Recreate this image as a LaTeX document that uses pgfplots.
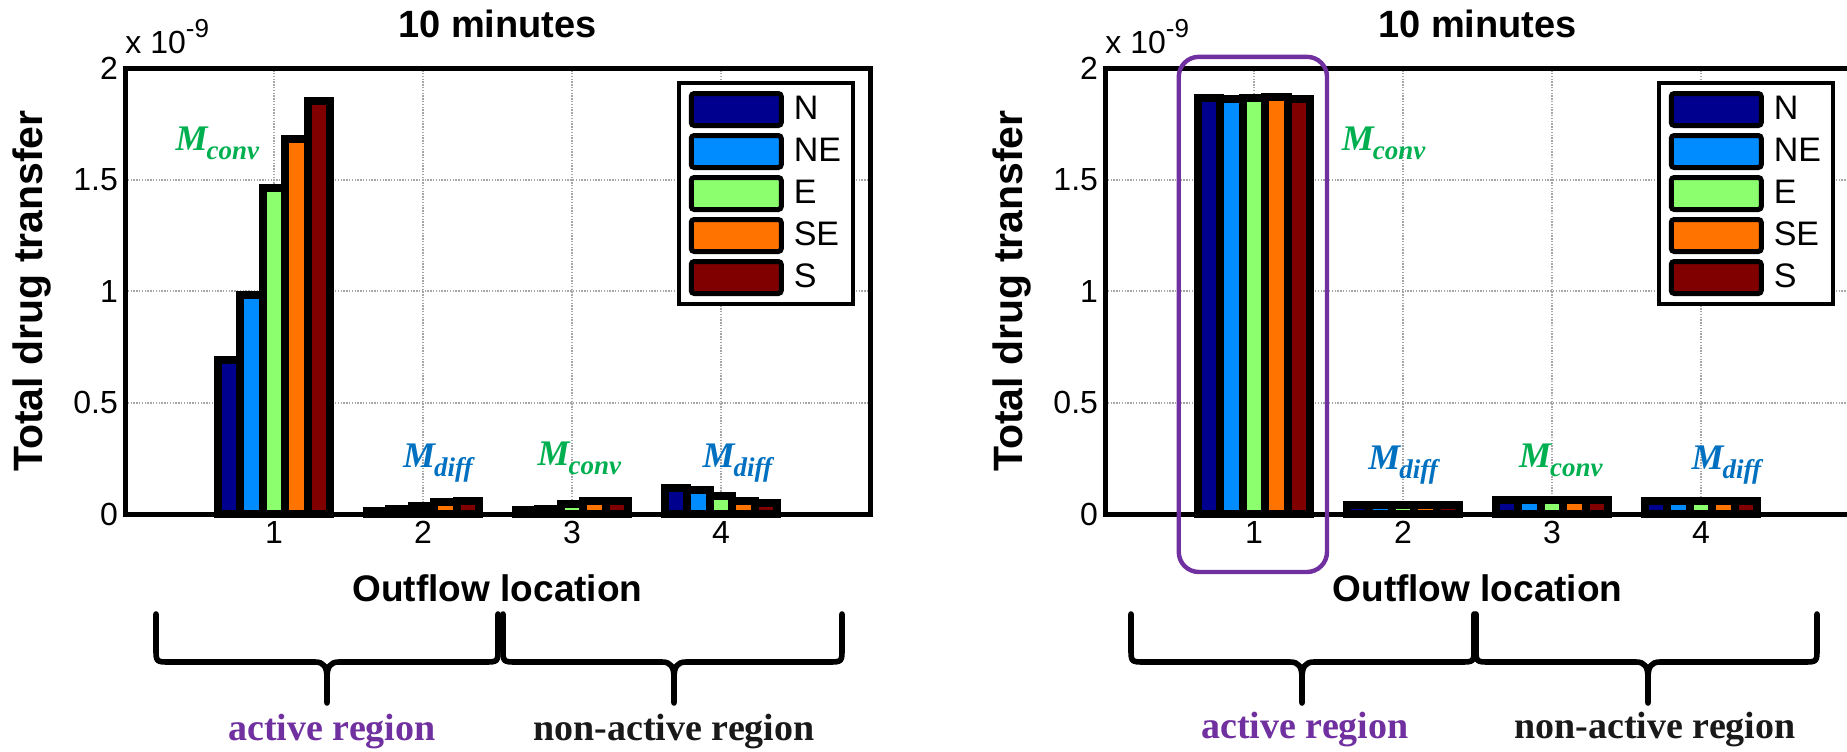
\documentclass[border=0pt]{standalone}
\usepackage{pgfplots}
\pgfplotsset{compat=1.18}
\usepackage{fontspec}
\setmainfont{Liberation Sans}
\newfontfamily\serifrm{Liberation Serif}

\definecolor{cN}{RGB}{0,0,143}
\definecolor{cNE}{RGB}{0,140,255}
\definecolor{cE}{RGB}{140,255,110}
\definecolor{cSE}{RGB}{255,115,0}
\definecolor{cS}{RGB}{128,0,0}
\definecolor{mgreen}{RGB}{0,176,80}
\definecolor{mblue}{RGB}{0,112,192}
\definecolor{mpurple}{RGB}{112,48,160}

\newcommand{\Mlab}[2]{{\color{#1}\serifrm\bfseries\itshape\fontsize{18}{18}\selectfont M\kern-0.5pt\raisebox{-4.5pt}{\fontsize{13.5}{13.5}\selectfont #2}}}

\newcommand{\hbrace}[3]{%
 \draw[line width=2.8pt, line cap=round, line join=round] (#1,614) -- (#1,648) .. controls (#1,662) .. (#1+14,662) -- (#3-12,662) .. controls (#3-3,662) and (#3,667) .. (#3,678) -- (#3,703);
 \draw[line width=2.8pt, line cap=round, line join=round] (#2,614) -- (#2,648) .. controls (#2,662) .. (#2-14,662) -- (#3+12,662) .. controls (#3+3,662) and (#3,667) .. (#3,678);}

\pgfplotsset{
 panel/.style={
  scale only axis, width=372.5pt, height=223pt,
  xmin=0, xmax=5, ymin=0, ymax=2,
  ybar=0pt, bar width=0.15,
  xtick={1,2,3,4}, xticklabels={1,2,3,4},
  ytick={0,0.5,1,1.5,2}, yticklabels={0,0.5,1,1.5,2},
  major tick length=0pt,
  grid=major, major grid style={gray!70, line width=1pt, dash pattern=on 0.7pt off 0.7pt},
  axis line style={line width=2.5pt},
  ticklabel style={font=\fontsize{16}{16}\selectfont},
  title={10 minutes},
  title style={font=\bfseries\fontsize{19}{19}\selectfont, at={(0.5,1)}, anchor=center, yshift=16pt},
  xlabel={Outflow location},
  xlabel style={font=\bfseries\fontsize{18.5}{18.5}\selectfont, at={(axis description cs:0.5,0)}, anchor=center, yshift=-37pt},
  ylabel={Total drug transfer},
  ylabel style={font=\bfseries\fontsize{20.5}{20.5}\selectfont, at={(axis description cs:-0.1248,0.5)}, anchor=center},
  legend image code/.code={\draw[##1, draw=black, line width=2.5pt, rounded corners=1.5pt] (0pt,-8pt) rectangle (45pt,8pt);},
  legend style={at={(1,1)}, anchor=north east, xshift=-7.5pt, yshift=-6.5pt, draw=black, line width=2pt, font=\fontsize{17}{17}\selectfont, row sep=2.5pt, inner xsep=5pt, inner ysep=4pt, nodes={inner sep=1pt}, /tikz/every odd column/.append style={column sep=4pt}},
  legend cell align=left,
  clip=false,
  every axis plot/.append style={draw=black, line width=4pt},
 },
}

\begin{document}
\begin{tikzpicture}
\useasboundingbox (0,0) rectangle (923.5pt,375.5pt);

\begin{axis}[panel, at={(62.5pt,118.5pt)}, anchor=south west]
\addplot[fill=cN]  coordinates {(1,0.69) (2,0.012) (3,0.017) (4,0.117)};
\addplot[fill=cNE] coordinates {(1,0.98) (2,0.021) (3,0.024) (4,0.106)};
\addplot[fill=cE]  coordinates {(1,1.46) (2,0.036) (3,0.046) (4,0.079)};
\addplot[fill=cSE] coordinates {(1,1.68) (2,0.054) (3,0.058) (4,0.058)};
\addplot[fill=cS]  coordinates {(1,1.85) (2,0.058) (3,0.060) (4,0.049)};
\legend{N,NE,E,SE,S}
\node at (axis cs:0.62,1.66) {\Mlab{mgreen}{conv}};
\node at (axis cs:2.10,0.23) {\Mlab{mblue}{diff}};
\node at (axis cs:3.05,0.25) {\Mlab{mgreen}{conv}};
\node at (axis cs:4.11,0.23) {\Mlab{mblue}{diff}};
\node[anchor=base west, inner sep=0pt, font=\fontsize{16}{16}\selectfont] at ([yshift=7.5pt]rel axis cs:0,1) {x 10\raisebox{0.5em}{\fontsize{13}{13}\selectfont -9}};
\end{axis}

\begin{axis}[panel, at={(552.5pt,118.5pt)}, anchor=south west]
\addplot[fill=cN]  coordinates {(1,1.866) (2,0.039) (3,0.063) (4,0.058)};
\addplot[fill=cNE] coordinates {(1,1.862) (2,0.039) (3,0.063) (4,0.058)};
\addplot[fill=cE]  coordinates {(1,1.865) (2,0.039) (3,0.063) (4,0.058)};
\addplot[fill=cSE] coordinates {(1,1.872) (2,0.039) (3,0.063) (4,0.058)};
\addplot[fill=cS]  coordinates {(1,1.863) (2,0.039) (3,0.063) (4,0.058)};
\legend{N,NE,E,SE,S}
\node at (axis cs:1.87,1.66) {\Mlab{mgreen}{conv}};
\node at (axis cs:2.00,0.22) {\Mlab{mblue}{diff}};
\node at (axis cs:3.06,0.24) {\Mlab{mgreen}{conv}};
\node at (axis cs:4.17,0.22) {\Mlab{mblue}{diff}};
\node[anchor=base west, inner sep=0pt, font=\fontsize{16}{16}\selectfont] at ([yshift=7.5pt]rel axis cs:0,1) {x 10\raisebox{0.5em}{\fontsize{13}{13}\selectfont -9}};
\draw[mpurple, line width=2.2pt, rounded corners=10pt] (axis cs:0.495,2.05) rectangle (axis cs:1.49,-0.26);
\end{axis}

\begin{scope}[shift={(0pt,375.5pt)}, x=0.5pt, y=-0.5pt]
\hbrace{156}{498}{327}
\hbrace{503}{842}{674}
\hbrace{1131}{1474}{1302}
\hbrace{1476}{1817}{1648}
\node[anchor=base, font=\serifrm\bfseries\fontsize{19}{19}\selectfont, text=mpurple] at (332,740) {active region};
\node[anchor=base, font=\serifrm\bfseries\fontsize{19}{19}\selectfont, text=black!90] at (674,740) {non-active region};
\node[anchor=base, font=\serifrm\bfseries\fontsize{19}{19}\selectfont, text=mpurple] at (1305,738) {active region};
\node[anchor=base, font=\serifrm\bfseries\fontsize{19}{19}\selectfont, text=black!90] at (1655,738) {non-active region};
\end{scope}
\end{tikzpicture}
\end{document}
